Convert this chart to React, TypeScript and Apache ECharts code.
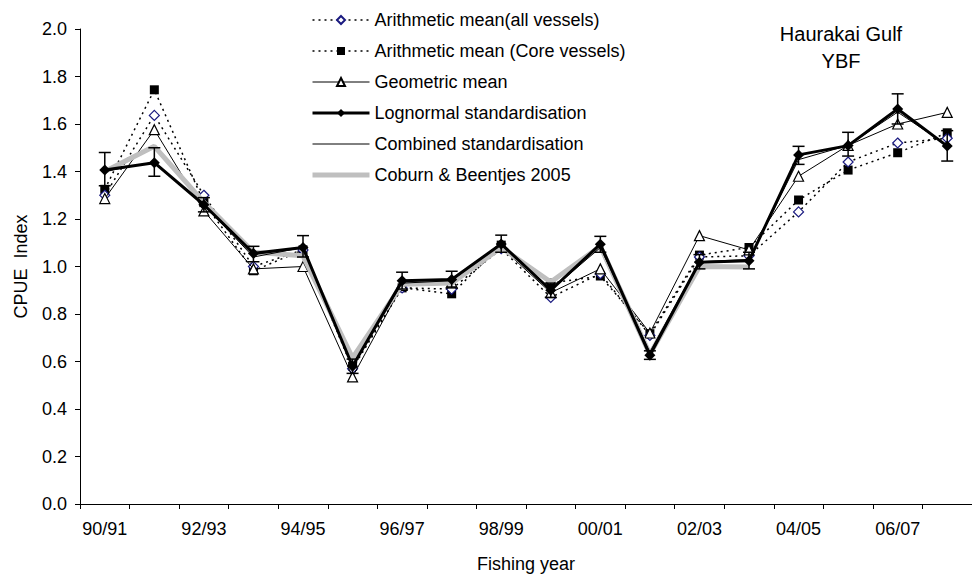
import React, { useEffect, useRef } from "react";
import * as echarts from "echarts";

const years = ["90/91","91/92","92/93","93/94","94/95","95/96","96/97","97/98","98/99","99/00","00/01","01/02","02/03","03/04","04/05","05/06","06/07","07/08"];
const arithAll = [1.30, 1.636, 1.30, 1.00, 1.07, 0.57, 0.91, 0.905, 1.075, 0.87, 0.97, 0.71, 1.04, 1.045, 1.23, 1.44, 1.52, 1.54];
const arithCore = [1.325, 1.744, 1.269, 0.982, 1.07, 0.58, 0.91, 0.885, 1.09, 0.93, 0.96, 0.717, 1.048, 1.08, 1.28, 1.406, 1.479, 1.563];
const geometric = [1.286, 1.576, 1.234, 0.99, 1.0, 0.535, 0.92, 0.935, 1.08, 0.89, 0.99, 0.72, 1.13, 1.07, 1.38, 1.51, 1.60, 1.649];
const lognormal = [1.406, 1.437, 1.26, 1.055, 1.08, 0.58, 0.94, 0.945, 1.095, 0.90, 1.094, 0.626, 1.018, 1.024, 1.47, 1.509, 1.663, 1.507];
const ciLow = [1.34, 1.38, 1.23, 1.02, 1.04, 0.55, 0.905, 0.91, 1.06, 0.87, 1.06, 0.609, 0.99, 0.99, 1.43, 1.465, 1.60, 1.444];
const ciHigh = [1.48, 1.50, 1.29, 1.085, 1.13, 0.61, 0.976, 0.98, 1.132, 0.93, 1.127, 0.645, 1.05, 1.06, 1.506, 1.565, 1.727, 1.572];
const combined = [1.40, 1.44, 1.26, 1.04, 1.08, 0.58, 0.93, 0.94, 1.10, 0.90, 1.08, 0.64, 1.02, 1.03, 1.45, 1.51, 1.65, 1.51];
const coburn = [1.40, 1.506, 1.27, 1.06, 1.045, 0.615, 0.925, 0.93, 1.08, 0.935, 1.085, 0.63, 1.00, 0.998];

const names = [
  "Arithmetic mean(all vessels)",
  "Arithmetic mean (Core vessels)",
  "Geometric mean",
  "Lognormal standardisation",
  "Combined standardisation",
  "Coburn & Beentjes 2005",
];

const FONT = "'Liberation Sans', Arial, sans-serif";

export default function App() {
  const ref = useRef<HTMLDivElement>(null);
  useEffect(() => {
    if (!ref.current) return;
    const chart = echarts.init(ref.current, null, { renderer: "svg" });
    const errData = years.map((_, i) => [i, ciLow[i], ciHigh[i]]);
    chart.setOption({
      animation: false,
      backgroundColor: "#ffffff",
      textStyle: { fontFamily: FONT },
      title: {
        text: "Haurakai Gulf\nYBF",
        left: 836,
        top: 15,
        textAlign: "center",
        textStyle: { fontFamily: FONT, fontSize: 20, fontWeight: "normal", color: "#000", lineHeight: 27 },
      },
      legend: {
        data: [
          { name: names[0], lineStyle: { width: 1.5 } },
          { name: names[1], lineStyle: { width: 1.5 } },
          { name: names[2], lineStyle: { width: 1 } },
          { name: names[3], lineStyle: { width: 3 } },
          { name: names[4], lineStyle: { width: 1 }, itemStyle: { opacity: 0 } },
          { name: names[5], lineStyle: { width: 5 }, itemStyle: { opacity: 0 } },
        ],
        orient: "vertical",
        left: 305,
        top: 5,
        itemWidth: 57,
        itemHeight: 10,
        itemGap: 11,
        textStyle: { fontFamily: FONT, fontSize: 18, color: "#000", lineHeight: 20 },
      },
      grid: { left: 80, width: 900, top: 29, height: 476, containLabel: false },
      xAxis: {
        type: "category",
        data: years,
        boundaryGap: true,
        name: "Fishing year",
        nameLocation: "middle",
        nameGap: 51,
        nameTextStyle: { fontFamily: FONT, fontSize: 18, color: "#000" },
        axisLine: { lineStyle: { color: "#000", width: 1 } },
        axisTick: { show: true, interval: 0, length: 5, inside: false, lineStyle: { color: "#000" } },
        axisLabel: { interval: 1, margin: 16, fontFamily: FONT, fontSize: 18, color: "#000" },
        splitLine: { show: false },
      },
      yAxis: {
        type: "value",
        min: 0,
        max: 2,
        interval: 0.2,
        name: "CPUE  Index",
        nameLocation: "middle",
        nameGap: 50,
        nameTextStyle: { fontFamily: FONT, fontSize: 18, color: "#000" },
        axisLine: { show: true, lineStyle: { color: "#000", width: 1 } },
        axisTick: { show: true, length: 5, lineStyle: { color: "#000" } },
        axisLabel: { margin: 13, fontFamily: FONT, fontSize: 18, color: "#000", formatter: (v: number) => v.toFixed(1) },
        splitLine: { show: false },
      },
      series: [
        {
          name: names[1],
          type: "line",
          data: arithCore,
          symbol: "rect",
          symbolSize: 9,
          itemStyle: { color: "#000" },
          lineStyle: { color: "#000", width: 1.5, type: [2, 4] },
          z: 2,
        },
        {
          name: names[0],
          type: "line",
          data: arithAll,
          symbol: "diamond",
          symbolSize: 10,
          itemStyle: { color: "#fff", borderColor: "#1a1a80", borderWidth: 1.2 },
          lineStyle: { color: "#000", width: 1.5, type: [2, 4] },
          z: 3,
        },
        {
          name: names[2],
          type: "line",
          data: geometric,
          symbol: "triangle",
          symbolSize: 10,
          itemStyle: { color: "#fff", borderColor: "#000", borderWidth: 1.2 },
          lineStyle: { color: "#000", width: 1 },
          z: 4,
        },
        {
          name: names[5],
          type: "line",
          data: coburn,
          symbol: "none",
          itemStyle: { color: "#bfbfbf" },
          lineStyle: { color: "#bfbfbf", width: 5 },
          z: 5,
        },
        {
          name: names[4],
          type: "line",
          data: combined,
          symbol: "none",
          itemStyle: { color: "#000" },
          lineStyle: { color: "#000", width: 1 },
          z: 6,
        },
        {
          name: "errbars",
          type: "custom",
          data: errData,
          encode: { x: 0, y: [1, 2] },
          z: 7,
          renderItem: (params: any, api: any) => {
            const i = api.value(0);
            const lo = api.coord([i, api.value(1)]);
            const hi = api.coord([i, api.value(2)]);
            const hw = 6;
            const st = { stroke: "#000", lineWidth: 1.5 };
            return {
              type: "group",
              children: [
                { type: "line", shape: { x1: lo[0], y1: lo[1], x2: hi[0], y2: hi[1] }, style: st },
                { type: "line", shape: { x1: lo[0] - hw, y1: lo[1], x2: lo[0] + hw, y2: lo[1] }, style: st },
                { type: "line", shape: { x1: hi[0] - hw, y1: hi[1], x2: hi[0] + hw, y2: hi[1] }, style: st },
              ],
            };
          },
        },
        {
          name: names[3],
          type: "line",
          data: lognormal,
          symbol: "diamond",
          symbolSize: 11,
          itemStyle: { color: "#000" },
          lineStyle: { color: "#000", width: 3 },
          z: 8,
        },
      ],
    });
    return () => chart.dispose();
  }, []);
  return <div ref={ref} style={{ position: "absolute", left: 0, top: 0, width: 972, height: 578 }} />;
}
